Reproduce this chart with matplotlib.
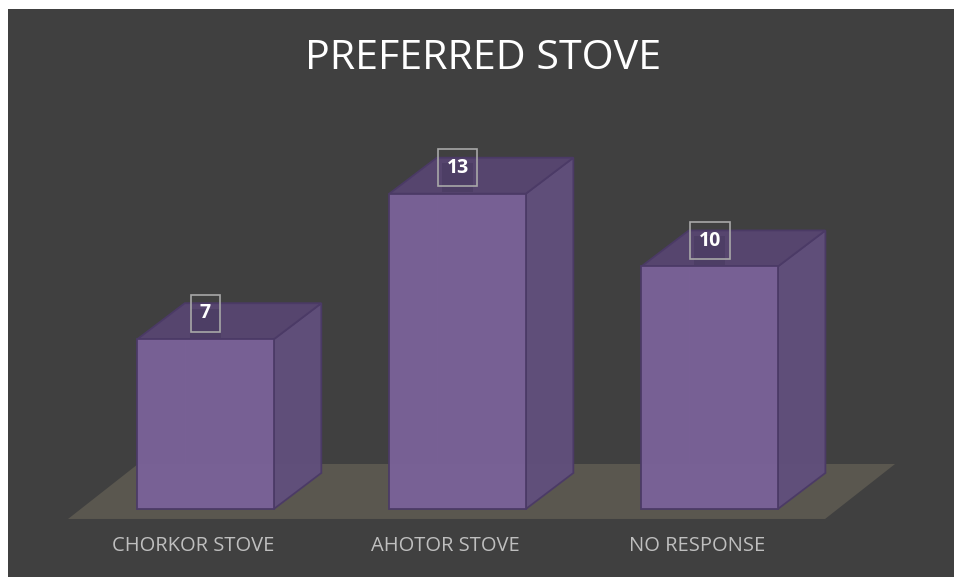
import matplotlib
matplotlib.use("Agg")
import matplotlib.pyplot as plt
from matplotlib.patches import Polygon, Rectangle

# ---- data ----
categories = ["CHORKOR STOVE", "AHOTOR STOVE", "NO RESPONSE"]
values = [7, 13, 10]
title = "PREFERRED STOVE"

# ---- style ----
BG = "#404040"
FRONT = "#7a6298"
SIDE = "#614f7c"
TOP = "#574670"
EDGE = "#4b3a66"
FLOOR = "#5a574f"
LABEL = "#bfbfbf"

plt.rcParams["font.family"] = ["Open Sans", "DejaVu Sans"]

fig = plt.figure(figsize=(9.541, 5.771), dpi=100, facecolor="white")
ax = fig.add_axes([0, 0, 1, 1])
ax.set_xlim(-0.8155, 2.970)
ax.set_ylim(-2.804, 20.99)
ax.axis("off")

# dark background panel
ax.add_patch(Rectangle((8 / 954, -0.01), 1.02, 1.01 - 9 / 577, transform=ax.transAxes,
                       facecolor=BG, edgecolor="none", zorder=0))

width = 0.5417
dx, dy = 0.1885, 1.485  # depth offset

# floor
n = len(categories)
fl_y0, fl_y1 = -0.412, 1.856
fl_x0, fl_x1 = -0.5456, (n - 1) + 0.458
fdx = 0.2778
ax.add_patch(Polygon([(fl_x0, fl_y0), (fl_x1, fl_y0), (fl_x1 + fdx, fl_y1),
                      (fl_x0 + fdx, fl_y1)], closed=True, facecolor=FLOOR,
                     edgecolor="none", zorder=1))

for i, (cat, v) in enumerate(zip(categories, values)):
    x0 = i - width / 2
    x1 = i + width / 2
    # hidden back edges (faint)
    ax.plot([x0, x0 + dx, x1 + dx], [0, dy, dy], color=EDGE, lw=1.0,
            alpha=0.35, zorder=2)
    ax.plot([x0 + dx, x0 + dx], [dy, v + dy], color=EDGE, lw=1.0,
            alpha=0.35, zorder=2)
    # right face
    ax.add_patch(Polygon([(x1, 0), (x1 + dx, dy), (x1 + dx, v + dy), (x1, v)],
                         closed=True, facecolor=SIDE, edgecolor=EDGE,
                         lw=1.3, zorder=3, alpha=0.97))
    # top face
    ax.add_patch(Polygon([(x0, v), (x1, v), (x1 + dx, v + dy), (x0 + dx, v + dy)],
                         closed=True, facecolor=TOP, edgecolor=EDGE,
                         lw=1.3, zorder=3, alpha=0.97))
    # front face
    ax.add_patch(Rectangle((x0, 0), width, v, facecolor=FRONT, edgecolor=EDGE,
                           lw=1.3, zorder=4, alpha=0.97))
    # subtle shadow under data label
    ax.add_patch(Rectangle((i - 0.06, v + 0.05), 0.12, 1.2, facecolor="#3e3155",
                           edgecolor="none", alpha=0.35, zorder=4.5))
    # data label
    ax.text(i, v + 1.07, str(v), ha="center", va="center", color="white",
            fontsize=14, fontweight="bold", zorder=6,
            bbox=dict(boxstyle="square,pad=0.45", facecolor="none",
                      edgecolor="#a8a8a8", lw=1.2))
    # category label
    ax.text(i - 0.048, -1.53, cat, ha="center", va="center", color=LABEL,
            fontsize=14.5, zorder=6)

fig.text(483.5 / 954, 1 - 58.5 / 577, title, ha="center", va="center",
         color="white", fontsize=29.7)

fig.savefig("out.png", dpi=100, facecolor=fig.get_facecolor())
